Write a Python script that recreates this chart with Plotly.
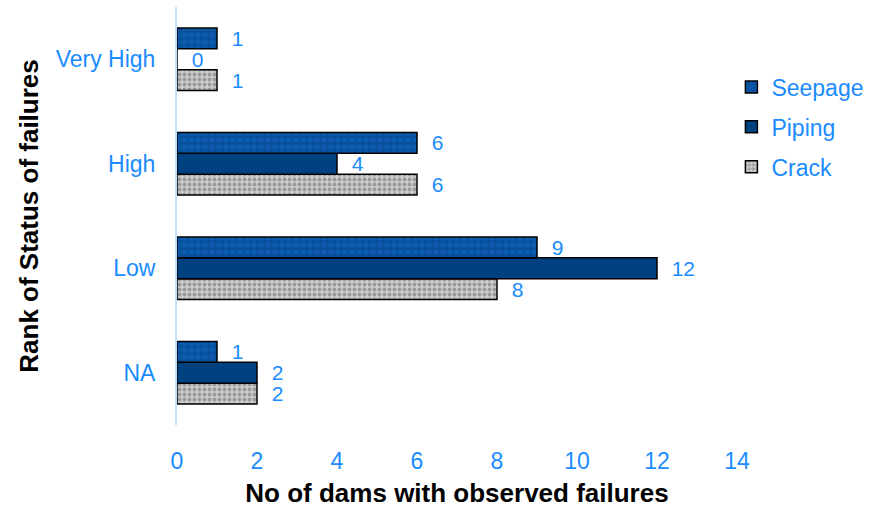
import plotly.graph_objects as go

# Failure ranks (bottom to top) and counts per failure type
ranks = ["NA", "Low", "High", "Very High"]
seepage = [1, 9, 6, 1]
piping = [2, 12, 4, 0]
crack = [2, 8, 6, 1]

x_ticks = [0, 2, 4, 6, 8, 10, 12, 14]

label_blue = "#1a8cff"
font_family = "Liberation Sans, Arial, sans-serif"
label_size = 23

fig = go.Figure()

value_text = dict(
    texttemplate="  %{x}", textposition="outside", constraintext="none",
    textfont=dict(color=label_blue, size=21, family=font_family),
    cliponaxis=False,
)

# Traces added bottom-to-top within each group
fig.add_trace(go.Bar(
    y=ranks, x=crack, name="Crack", orientation="h",
    legendgroup="c", legendrank=3,
    marker=dict(
        color="#b8b8b8",
        line=dict(color="black", width=1.5),
        pattern=dict(shape=".", fgcolor="#666666", bgcolor="#cccccc",
                     size=5, solidity=0.45),
    ),
    **value_text,
))
fig.add_trace(go.Bar(
    y=ranks, x=piping, name="Piping", orientation="h",
    legendgroup="p", legendrank=2,
    marker=dict(color="#00427f", line=dict(color="black", width=1.5)),
    **value_text,
))
fig.add_trace(go.Bar(
    y=ranks, x=seepage, name="Seepage", orientation="h",
    legendgroup="s", legendrank=1,
    marker=dict(
        color="#0c5cb2",
        line=dict(color="black", width=1.5),
        pattern=dict(shape="+", fgcolor="#063f80", bgcolor="#0c5cb2",
                     size=7, solidity=0.45),
    ),
    **value_text,
))

fig.update_layout(
    width=887, height=509,
    margin=dict(l=177, r=150, t=7, b=81),
    paper_bgcolor="white", plot_bgcolor="white",
    barmode="group", bargap=0.4, bargroupgap=0,
    font=dict(family=font_family, size=label_size, color=label_blue),
    legend=dict(
        x=0.99, y=0.86, xanchor="left", yanchor="top",
        font=dict(size=label_size, color=label_blue, family=font_family),
        tracegroupgap=7, itemwidth=30,
    ),
    xaxis=dict(
        range=[0, 14], tickvals=x_ticks, showgrid=False, zeroline=False,
        showline=False, ticks="", ticklabelstandoff=20,
        tickfont=dict(color=label_blue, size=label_size),
        title=dict(text="<b>No of dams with observed failures</b>",
                   font=dict(color="black", size=26), standoff=10),
    ),
    yaxis=dict(
        categoryorder="array", categoryarray=ranks,
        showgrid=False, zeroline=False,
        showline=True, linecolor="#bfe0fb", linewidth=2,
        ticks="", ticklabelstandoff=15,
        tickfont=dict(color=label_blue, size=label_size),
        title=dict(text="<b>Rank of Status of failures</b>",
                   font=dict(color="black", size=26), standoff=10),
    ),
)

fig.write_html("out.html")
